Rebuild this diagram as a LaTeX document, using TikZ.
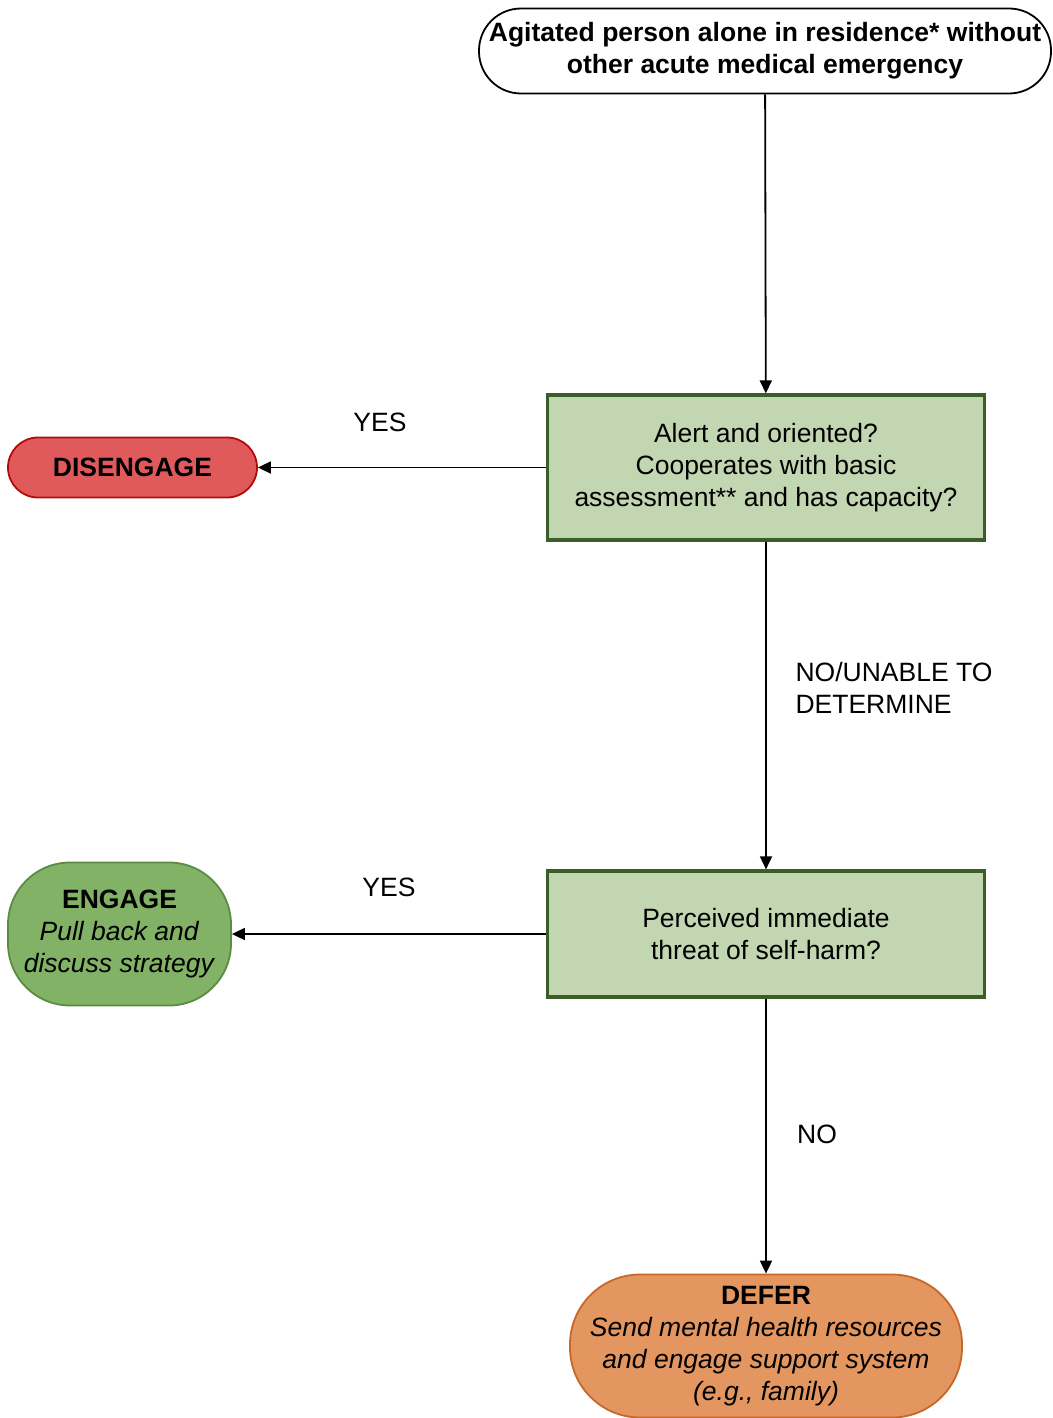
\documentclass[tikz,border=0pt]{standalone}
\usepackage{fontspec}
\setmainfont{Liberation Sans}
\usetikzlibrary{arrows.meta,positioning}
\definecolor{qfill}{HTML}{C3D6B2}
\definecolor{qdraw}{HTML}{3B5E28}
\definecolor{disfill}{HTML}{E05A5B}
\definecolor{disdraw}{HTML}{B30A0A}
\definecolor{engfill}{HTML}{82B266}
\definecolor{engdraw}{HTML}{5C8C42}
\definecolor{deffill}{HTML}{E3965F}
\definecolor{defdraw}{HTML}{C5682A}

\begin{document}
\begin{tikzpicture}[
  x=1pt,y=-1pt,>={Triangle[length=13pt,width=12pt]},
  every node/.style={font=\fontsize{26.5}{32}\selectfont},
  flow/.style={->,line width=1.8pt},
  question/.style={draw=qdraw,fill=qfill,line width=3.2pt,minimum width=437pt,align=center,inner sep=0pt},
  outcome/.style={line width=1.8pt,align=center,inner sep=0pt}
]
  \useasboundingbox (0,0) rectangle (1052,1418);

  % Start
  \node[draw,line width=1.8pt,rounded corners=42pt,minimum width=572pt,minimum height=85pt,
        align=center,inner sep=0pt,font=\fontsize{26.5}{32}\selectfont\bfseries] (start) at (765,51)
    {Agitated person alone in residence* without\\other acute medical emergency};

  % Questions
  \node[question,minimum height=145pt] (alert) at (766,467.5)
    {Alert and oriented?\\Cooperates with basic\\assessment** and has capacity?};
  \node[question,minimum height=126pt] (harm) at (766,934)
    {Perceived immediate\\threat of self-harm?};

  % Outcomes
  \node[outcome,draw=disdraw,fill=disfill,rounded corners=30pt,minimum width=249pt,minimum height=60pt,
        font=\fontsize{26.5}{32}\selectfont\bfseries] (diseng) at (132.5,467.5) {DISENGAGE};
  \node[outcome,draw=engdraw,fill=engfill,rounded corners=62pt,minimum width=223pt,minimum height=143pt] (engage) at (119.5,934)
    {\textbf{ENGAGE}\\\textit{Pull back and}\\\textit{discuss strategy}};
  \node[outcome,draw=defdraw,fill=deffill,rounded corners=70pt,minimum width=392pt,minimum height=143pt] (defer) at (766,1346)
    {\textbf{DEFER}\\\textit{Send mental health resources}\\\textit{and engage support system}\\\textit{(e.g., family)}};

  % Connectors
  \draw[flow] (start) -- (alert);
  \draw[flow] (alert) -- (diseng);
  \draw[flow] (alert) -- (harm);
  \draw[flow] (harm) -- (engage);
  \draw[flow] (harm) -- (defer);

  % Labels
  \node (yes1) at (380,422) {YES};
  \node[anchor=west,align=left] (nounable) at (792,688) {NO/UNABLE TO\\DETERMINE};
  \node (yes2) at (389,887) {YES};
  \node (no1) at (817,1134) {NO};
\end{tikzpicture}
\end{document}
